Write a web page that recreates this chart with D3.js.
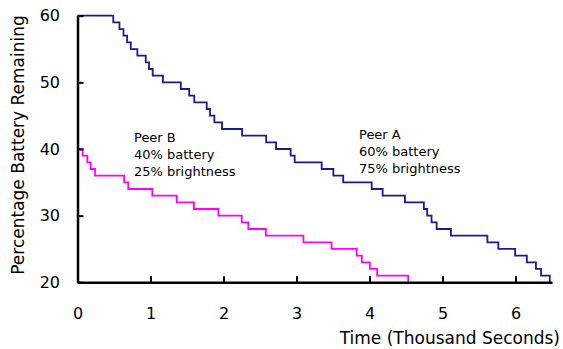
<!DOCTYPE html>
<html>
<head>
<meta charset="utf-8">
<script src="https://cdn.jsdelivr.net/npm/d3@7"></script>
<style>
  body { margin: 0; background: #fff; }
  svg text { font-family: "DejaVu Sans", sans-serif; fill: #000; }
</style>
</head>
<body>
<div id="wrapper"></div>
<script>
// Peer A: time (thousand s) where the level changes, and the new level
const peerATimes = [0, 0.49, 0.575, 0.63, 0.68, 0.73, 0.82, 0.935, 0.98, 1.03, 1.17,
    1.415, 1.53, 1.60, 1.77, 1.815, 1.875, 1.98, 2.255, 2.585, 2.72, 2.92, 2.975,
    3.345, 3.505, 3.64, 4.03, 4.18, 4.485, 4.745, 4.79, 4.85, 4.92, 5.115, 5.615,
    5.765, 5.995, 6.155, 6.28, 6.35, 6.47];
const peerAValues = [60, 59, 58, 57, 56, 55, 54, 53, 52, 51, 50,
    49, 48, 47, 46, 45, 44, 43, 42, 41, 40, 39, 38,
    37, 36, 35, 34, 33, 32, 31, 30, 29, 28, 27, 26,
    25, 24, 23, 22, 21, 20];

// Peer B
const peerBTimes = [0, 0.07, 0.135, 0.18, 0.24, 0.64, 0.695, 1.025, 1.36, 1.595, 1.93,
    2.25, 2.34, 2.58, 3.095, 3.48, 3.825, 3.895, 4.005, 4.105, 4.53];
const peerBValues = [40, 39, 38, 37, 36, 35, 34, 33, 32, 31, 30,
    29, 28, 27, 26, 25, 24, 23, 22, 21, 20];

const xTicks = [0, 1, 2, 3, 4, 5, 6];
const yTicks = [20, 30, 40, 50, 60];

const labelA = ["Peer A", "60% battery", "75% brightness"];
const labelB = ["Peer B", "40% battery", "25% brightness"];

function drawChart() {
    const dimensions = {
        width: 563,
        height: 349,
        margin: { top: 15.7, right: 11, bottom: 66.7, left: 77.5 }
    };
    dimensions.boundedWidth = dimensions.width - dimensions.margin.left - dimensions.margin.right;
    dimensions.boundedHeight = dimensions.height - dimensions.margin.top - dimensions.margin.bottom;

    const wrapper = d3.select("#wrapper")
        .append("svg")
        .attr("width", dimensions.width)
        .attr("height", dimensions.height);

    const bounds = wrapper.append("g")
        .attr("transform", `translate(${dimensions.margin.left},${dimensions.margin.top})`);

    const xScale = d3.scaleLinear()
        .domain([0, 6.5])
        .range([0, dimensions.boundedWidth]);

    const yScale = d3.scaleLinear()
        .domain([20, 60])
        .range([dimensions.boundedHeight, 0]);

    const line = d3.line()
        .x(d => xScale(d[0]))
        .y(d => yScale(d[1]))
        .curve(d3.curveStepAfter);

    const seriesA = peerATimes.map((t, i) => [t, peerAValues[i]]);
    const seriesB = peerBTimes.map((t, i) => [t, peerBValues[i]]);

    bounds.append("path")
        .attr("d", line(seriesA))
        .attr("fill", "none")
        .attr("stroke", "#1b1b8f")
        .attr("stroke-width", 1.8);

    bounds.append("path")
        .attr("d", line(seriesB))
        .attr("fill", "none")
        .attr("stroke", "#ff00ff")
        .attr("stroke-width", 1.8);

    // axes, ticks pointing inward
    const yAxis = bounds.append("g")
        .call(d3.axisLeft(yScale).tickValues(yTicks).tickFormat(d3.format("d"))
            .tickSize(-6).tickPadding(17.5).tickSizeOuter(0));
    const xAxis = bounds.append("g")
        .attr("transform", `translate(0,${dimensions.boundedHeight})`)
        .call(d3.axisBottom(xScale).tickValues(xTicks).tickFormat(d3.format("d"))
            .tickSize(-6).tickPadding(25).tickSizeOuter(0));

    [xAxis, yAxis].forEach(ax => {
        ax.select(".domain").attr("stroke", "#000").attr("stroke-width", 2.5);
        ax.selectAll(".tick line").attr("stroke", "#000").attr("stroke-width", 2);
        ax.selectAll(".tick text")
            .style("font-family", "'DejaVu Sans', sans-serif")
            .style("font-size", "16px");
    });

    // axis titles
    wrapper.append("text")
        .attr("transform", "translate(23.5,145) rotate(-90)")
        .attr("text-anchor", "middle")
        .style("font-size", "17px")
        .text("Percentage Battery Remaining");

    wrapper.append("text")
        .attr("x", 560)
        .attr("y", 344)
        .attr("text-anchor", "end")
        .style("font-size", "17px")
        .text("Time (Thousand Seconds)");

    // annotations
    const annotate = (lines, x, y) => {
        wrapper.append("text")
            .attr("x", x)
            .attr("y", y)
            .style("font-size", "13px")
            .selectAll("tspan")
            .data(lines)
            .join("tspan")
            .attr("x", x)
            .attr("dy", (d, i) => i === 0 ? 0 : 17.2)
            .text(d => d);
    };
    annotate(labelB, 134, 141.5);
    annotate(labelA, 359, 139);
}
drawChart();
</script>
</body>
</html>
